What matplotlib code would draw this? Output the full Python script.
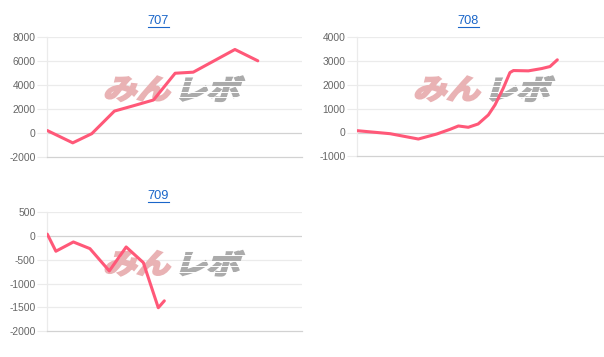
"""Slump graphs for machines 707 / 708 / 709 (games played vs. medal difference)."""
import numpy as np
import matplotlib
matplotlib.use("Agg")
import matplotlib.pyplot as plt
from matplotlib.font_manager import FontProperties
from matplotlib.textpath import TextPath
from matplotlib.patches import PathPatch
from matplotlib.lines import Line2D
from matplotlib.transforms import Affine2D, IdentityTransform

# ------------------------------------------------------------------ data
TITLES = ["707", "708", "709"]

GAMES_707 = [0, 800, 1400, 2110, 2700, 3340, 4020, 4590, 5900, 6620]
DIFF_707 = [190, -840, -70, 1820, 2260, 2750, 4990, 5080, 6980, 6030]

GAMES_708 = [0, 560, 1030, 1920, 2500, 2920, 3180, 3490, 3800, 4120,
             4330, 4590, 4800, 4910, 5380, 5800, 6060, 6290]
DIFF_708 = [76, 8, -50, -274, -63, 135, 274, 219, 358, 737,
            1158, 1862, 2519, 2603, 2590, 2687, 2772, 3054]

GAMES_709 = [0, 270, 820, 1340, 1950, 2480, 3020, 3490, 3680]
DIFF_709 = [40, -320, -125, -265, -735, -230, -560, -1510, -1365]

YTICKS_707 = [-2000, 0, 2000, 4000, 6000, 8000]
YTICKS_708 = [-1000, 0, 1000, 2000, 3000, 4000]
YTICKS_709 = [-2000, -1500, -1000, -500, 0, 500]

X_MAX = 8000

# ------------------------------------------------------------------ style
W, H, DPI = 604, 357, 100
LINE = "#ff5878"
GRID = "#ebebeb"
ZERO = "#d2d2d2"
TICK_TXT = "#666666"
LINK = "#1a66c9"
PINK = "#e9b2b4"
GREY = "#ababab"

plt.rcParams["font.family"] = ["Liberation Sans", "DejaVu Sans"]

fig = plt.figure(figsize=(W / DPI, H / DPI), dpi=DPI)


def px_axes(left, top, right, bottom):
    """axes from image pixel box (y measured from top)."""
    return fig.add_axes([left / W, 1 - bottom / H, (right - left) / W, (bottom - top) / H])


def watermark(ax, x0, y0, x1, y1):
    """'みんレボ' logo, slanted and heavy, fitted into pixel box (image coords)."""
    fp = FontProperties(family="Noto Sans CJK JP", weight="bold")
    xm = x0 + (x1 - x0) * 0.485
    for txt, col, a, b in (("みん", PINK, x0 + 1, xm - 1), ("レボ", GREY, xm + 2.5, x1 - 1)):
        tp = TextPath((0, 0), txt, size=30, prop=fp)
        tp = tp.transformed(Affine2D().skew_deg(14, 0))
        v = tp.vertices
        bx0, by0 = v[:, 0].min(), v[:, 1].min()
        bx1, by1 = v[:, 0].max(), v[:, 1].max()
        sx = (b - a) / (bx1 - bx0)
        sy = (y1 - y0 - 2) / (by1 - by0)
        tr = Affine2D().translate(-bx0, -by0).scale(sx, sy).translate(a, H - y1 + 1)
        ax.add_artist(PathPatch(tp, transform=tr + IdentityTransform(), fc=col,
                                ec=col, lw=1.6, joinstyle="miter",
                                zorder=0.6, clip_on=False))
    # speed stripes across the grey half
    for yy in np.linspace(y0 + 5, y1 - 5, 4):
        ax.add_artist(Line2D([xm + 1, x1], [H - yy, H - yy], transform=IdentityTransform(),
                             color="white", lw=0.7, zorder=0.7, clip_on=False))


def panel(ax, games, diff, yticks):
    ax.set_xlim(0, X_MAX)
    ax.set_ylim(yticks[0], yticks[-1])
    ax.set_yticks(yticks)
    ax.set_yticklabels([str(t) for t in yticks])
    ax.set_xticks([])
    ax.tick_params(axis="y", length=7, width=0.8, color=GRID, pad=1.5,
                   labelsize=7.4, labelcolor=TICK_TXT)
    for t in yticks[1:]:
        ax.axhline(t, color=ZERO if t == 0 else GRID, lw=0.9, zorder=0.5)
    for s in ("top", "right"):
        ax.spines[s].set_visible(False)
    ax.spines["left"].set_color(GRID)
    ax.spines["bottom"].set_color(ZERO)
    ax.spines["left"].set_linewidth(0.9)
    ax.spines["bottom"].set_linewidth(0.9)
    ax.plot(games, diff, color=LINE, lw=2.2, solid_joinstyle="round",
            solid_capstyle="round", zorder=3)


ax1 = px_axes(47.3, 37.3, 301.7, 156.7)
ax2 = px_axes(357.3, 37.3, 611.7, 156.3)
ax3 = px_axes(47.3, 212.3, 301.7, 331.0)

panel(ax1, GAMES_707, DIFF_707, YTICKS_707)
panel(ax2, GAMES_708, DIFF_708, YTICKS_708)
panel(ax3, GAMES_709, DIFF_709, YTICKS_709)

watermark(ax1, 101.7, 75.5, 245.0, 102.0)
watermark(ax2, 411.7, 75.5, 555.0, 102.0)
watermark(ax3, 101.7, 250.0, 245.0, 276.5)

# linked titles, underlined
titles = []
for name, cx, cy in zip(TITLES, [158.3, 468.3, 158.3], [21.0, 21.0, 196.2]):
    titles.append(fig.text(cx / W, 1 - cy / H, name, ha="center", va="center",
                           fontsize=9.2, color=LINK))
fig.canvas.draw()
for t in titles:
    bb = t.get_window_extent()
    yy = bb.y0 + 0.3
    fig.add_artist(Line2D([bb.x0 / W, bb.x1 / W], [yy / H, yy / H],
                          transform=fig.transFigure, color=LINK, lw=0.8))

fig.savefig("out.png", dpi=DPI, facecolor="white")
